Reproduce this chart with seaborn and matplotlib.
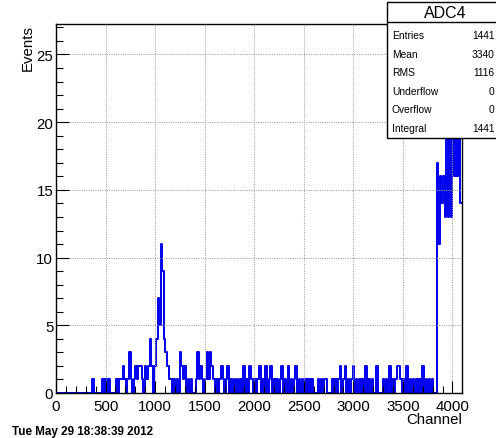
import numpy as np
import pandas as pd
import matplotlib
matplotlib.use("Agg")
import matplotlib.pyplot as plt
from matplotlib.patches import Rectangle
from matplotlib.lines import Line2D
from matplotlib.ticker import MultipleLocator
import seaborn as sns

# ---- histogram content: ADC channel spectrum, 16-channel bins over 0..4096 ----
hist_name = "ADC4"
bin_width = 16
n_channels = 4096

# bins 0..239 (channels 0..3839), one row = 256 channels
counts_low = [
    0, 0, 0, 0, 0, 0, 0, 0, 0, 0, 0, 0, 0, 0, 0, 0,
    0, 0, 0, 0, 0, 0, 0, 1, 0, 0, 0, 0, 0, 1, 0, 1,
    0, 1, 0, 0, 0, 0, 1, 0, 1, 1, 2, 1, 0, 1, 3, 1,
    0, 1, 2, 1, 2, 2, 1, 0, 2, 1, 2, 4, 2, 0, 2, 4,
    7, 5, 11, 9, 4, 3, 2, 1, 1, 0, 1, 0, 1, 0, 3, 2,
    1, 2, 0, 1, 0, 1, 0, 0, 1, 3, 1, 2, 1, 0, 1, 3,
    1, 3, 2, 1, 0, 1, 0, 1, 2, 1, 0, 1, 2, 0, 1, 0,
    1, 0, 1, 0, 1, 0, 2, 0, 1, 0, 2, 1, 0, 1, 0, 1,
    2, 0, 1, 0, 2, 0, 1, 2, 0, 1, 0, 1, 0, 1, 2, 0,
    1, 0, 2, 0, 1, 0, 1, 2, 0, 1, 0, 1, 0, 1, 0, 1,
    0, 1, 0, 0, 0, 1, 0, 1, 0, 1, 1, 0, 0, 0, 1, 0,
    1, 0, 1, 2, 0, 1, 2, 0, 1, 0, 1, 2, 0, 1, 0, 1,
    0, 1, 0, 2, 0, 1, 0, 1, 0, 0, 2, 0, 0, 0, 1, 0,
    1, 0, 2, 0, 1, 0, 1, 2, 2, 1, 0, 1, 0, 2, 0, 1,
    0, 1, 0, 1, 0, 1, 0, 2, 0, 1, 0, 1, 0, 1, 0, 0,
]
# bins 240..255 (channels 3840..4095), the saturation pile-up
counts_high = [17, 11, 16, 14, 16, 13, 19, 13, 22, 13, 25, 16, 21, 16, 24, 14]

stat_labels = ["Entries", "Mean", "RMS", "Underflow", "Overflow", "Integral"]
stat_values = ["1441", "3340", "1116", "0", "0", "1441"]

x_label = "Channel"
y_label = "Events"
timestamp = "Tue May 29 18:38:39 2012"

# ---- build the table ----
counts = np.array(counts_low + counts_high, dtype=float)
centers = np.arange(len(counts)) * bin_width + bin_width / 2
df = pd.DataFrame({"channel": centers, "events": counts})

sns.set_theme(style="white")
plt.rcParams["font.family"] = ["Liberation Sans", "DejaVu Sans"]

W, H = 496, 439
fig = plt.figure(figsize=(W / 100, H / 100), dpi=100)
fig.patch.set_facecolor("white")
ax = fig.add_axes([56 / W, 1 - 394 / H, (462 - 56) / W, (394 - 25) / H])

sns.histplot(data=df, x="channel", weights="events",
             binwidth=bin_width, binrange=(0, n_channels),
             element="step", fill=False, color="#0000ee",
             linewidth=1.4, ax=ax)

ax.set_xlim(0, n_channels)
ax.set_ylim(0, 27.25)

# ROOT-like axes: inward ticks, dotted grid at major ticks
ax.xaxis.set_major_locator(MultipleLocator(500))
ax.xaxis.set_minor_locator(MultipleLocator(100))
ax.yaxis.set_major_locator(MultipleLocator(5))
ax.yaxis.set_minor_locator(MultipleLocator(1))
ax.tick_params(which="both", direction="in", top=False, right=False,
               bottom=True, left=True, color="black", width=0.8,
               labelsize=10.8, labelcolor="black")
ax.tick_params(which="major", length=9)
ax.tick_params(which="minor", length=4.8)
ax.tick_params(axis="y", which="major", pad=2)
ax.tick_params(axis="x", which="major", pad=4)

ax.grid(True, which="major", linestyle=(0, (1, 1.2)), color="#a0a0a0", linewidth=0.75)
ax.set_axisbelow(False)
for sp in ax.spines.values():
    sp.set_color("black")
    sp.set_linewidth(1.0)
    sp.set_zorder(3)

ax.set_xlabel(x_label, loc="right", fontsize=10.8, color="black")
ax.xaxis.set_label_coords(1.0, (394 - 413) / 369)
ax.set_ylabel(y_label, loc="top", fontsize=10.8, color="black")
ax.yaxis.set_label_coords((35 - 56) / 406, 1.0)

# ---- statistics box ----
box_l, box_r, box_t, box_b = 387, 498, 3, 139
fig.add_artist(Rectangle((box_l / W, 1 - box_b / H), (box_r - box_l) / W,
                         (box_b - box_t) / H, transform=fig.transFigure,
                         facecolor="white", edgecolor="black", linewidth=1.0,
                         zorder=10))
fig.add_artist(Line2D([box_l / W, box_r / W], [1 - 23 / H, 1 - 23 / H],
                      transform=fig.transFigure, color="black", linewidth=1.0,
                      zorder=11))
fig.text(445 / W, 1 - 13.5 / H, hist_name, ha="center", va="center",
         fontsize=11.5, color="black", zorder=12)
for i, (lab, val) in enumerate(zip(stat_labels, stat_values)):
    yy = 1 - (36 + 18.6 * i) / H
    fig.text(392 / W, yy, lab, ha="left", va="center", fontsize=7.4,
             color="black", zorder=12)
    fig.text(494.5 / W, yy, val, ha="right", va="center", fontsize=7.4,
             color="black", zorder=12)

fig.text(11.5 / W, 1 - 432 / H, timestamp, ha="left", va="center",
         fontsize=8.4, fontweight="bold", color="black")

fig.savefig("out.png", dpi=100)
